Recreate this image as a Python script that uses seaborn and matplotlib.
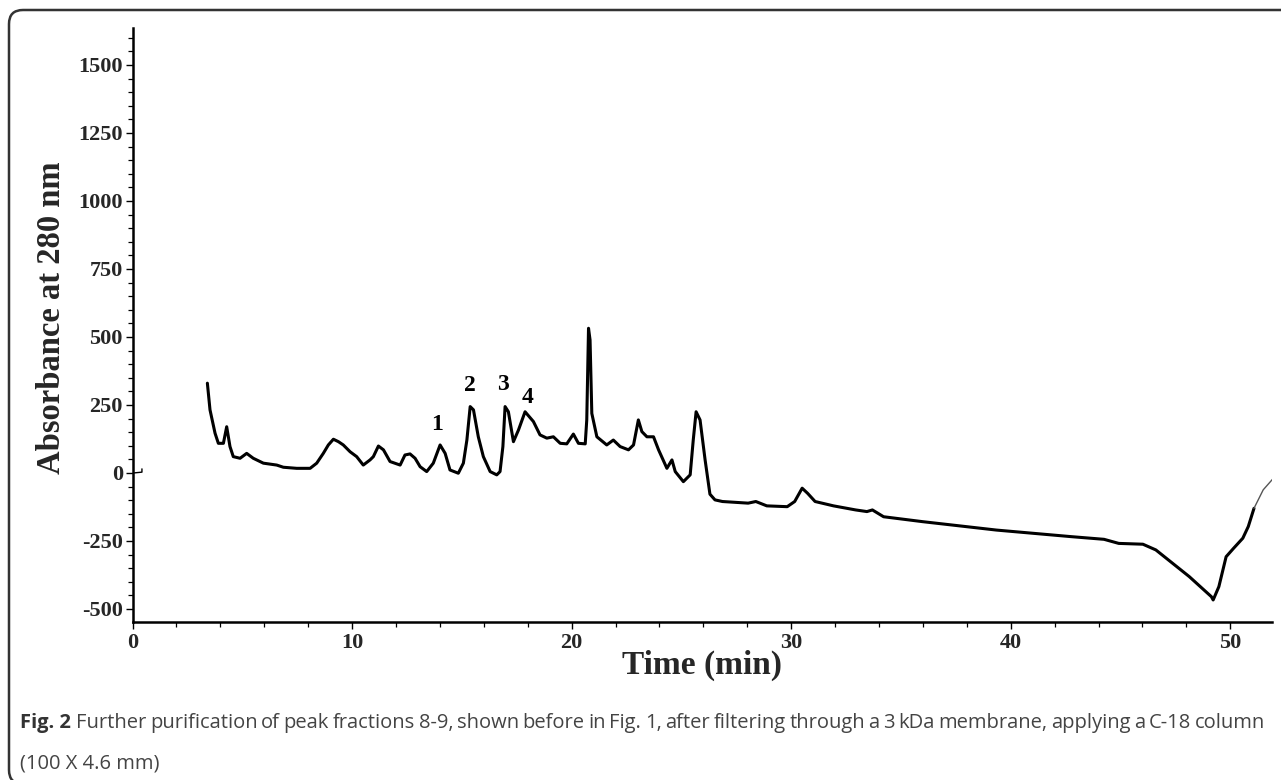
import numpy as np
import pandas as pd
import matplotlib
matplotlib.use("Agg")
import matplotlib.pyplot as plt
from matplotlib.patches import FancyBboxPatch
from matplotlib.ticker import MultipleLocator
import seaborn as sns

# ---- data ----
time_main = [3.41, 3.53, 3.76, 3.91, 4.14, 4.29, 4.44, 4.59, 4.90, 5.20,
             5.50, 5.96, 6.57, 6.87, 7.48, 8.09, 8.39, 8.69, 8.92, 9.15, 9.38, 9.60, 9.91,
             10.21, 10.51, 10.82, 10.97, 11.20, 11.43, 11.73, 12.19, 12.41, 12.64,
             12.87, 13.10, 13.40, 13.70, 14.01, 14.24, 14.46, 14.84, 15.07, 15.23,
             15.38, 15.53, 15.75, 15.98, 16.29, 16.59, 16.74, 16.87, 16.97, 17.12,
             17.35, 17.58, 17.88, 18.26, 18.56, 18.87, 19.17, 19.48, 19.78, 20.08,
             20.31, 20.62, 20.69, 20.77, 20.84, 20.92, 21.15, 21.60, 21.90, 22.21,
             22.59, 22.82, 23.04, 23.20, 23.43, 23.73, 23.96, 24.34, 24.57, 24.72,
             25.09, 25.40, 25.54, 25.67, 25.85, 26.08, 26.30, 26.53, 26.87, 28.04,
             28.39, 28.89, 29.82, 30.16, 30.50, 30.75, 31.09, 31.93, 32.94, 33.45,
             33.70, 34.21, 35.98, 39.35, 42.73, 44.25, 44.92, 46.02, 46.61, 48.13,
             49.14, 49.22, 49.48, 49.81, 50.15, 50.57, 50.82, 51.08]
abs_main = [330, 232, 146, 109, 109, 170, 97, 60, 54, 72,
            54, 36, 29, 21, 17, 17, 36, 72, 103, 124, 115, 103, 78,
            60, 29, 48, 60, 99, 85, 42, 29, 66, 70,
            54, 23, 5, 36, 103, 72, 11, -1, 36, 121,
            244, 232, 133, 60, 5, -7, 5, 97, 244, 225,
            115, 158, 225, 189, 140, 128, 133, 109, 107, 143,
            109, 107, 195, 532, 489, 219, 133, 103, 121, 97,
            85, 103, 195, 152, 133, 133, 85, 17, 48, 5,
            -32, -7, 121, 225, 195, 48, -78, -99, -105, -111,
            -105, -121, -124, -105, -56, -75, -105, -121, -136, -142,
            -136, -161, -179, -210, -234, -244, -259, -262, -283, -381,
            -455, -467, -418, -308, -277, -240, -197, -130]
time_tail = [51.08, 51.50, 51.97]
abs_tail = [-130, -62, -19]
time_pre = [0.05, 0.43, 0.43]
abs_pre = [0, 3, 15]

peak_labels = ["1", "2", "3", "4"]
peak_label_time = [13.87, 15.38, 16.88, 18.01]
peak_label_abs = [180, 323, 327, 276]

y_ticks = [-500, -250, 0, 250, 500, 750, 1000, 1250, 1500]
x_ticks = [0, 10, 20, 30, 40, 50]

caption_bold = "Fig. 2"
caption_line1 = ("Further purification of peak fractions 8-9, shown before in Fig. 1, "
                 "after filtering through a 3 kDa membrane, applying a C-18 column")
caption_line2 = "(100 X 4.6 mm)"

# ---- style ----
sns.set_theme(style="ticks")
plt.rcParams["font.family"] = ["Liberation Serif", "DejaVu Serif"]
plt.rcParams["axes.unicode_minus"] = False

W, H = 1281, 780
fig = plt.figure(figsize=(W / 100, H / 100), dpi=100)
ax_left, ax_right, ax_top, ax_bottom = 132.5, 1272, 28, 622
ax = fig.add_axes([ax_left / W, 1 - ax_bottom / H, (ax_right - ax_left) / W,
                   (ax_bottom - ax_top) / H])

df_main = pd.DataFrame({"Time": time_main, "Abs": abs_main})
df_tail = pd.DataFrame({"Time": time_tail, "Abs": abs_tail})
df_pre = pd.DataFrame({"Time": time_pre, "Abs": abs_pre})

sns.lineplot(data=df_main, x="Time", y="Abs", sort=False, estimator=None,
             color="black", linewidth=2.2, ax=ax)
sns.lineplot(data=df_tail, x="Time", y="Abs", sort=False, estimator=None,
             color="#555555", linewidth=1.0, ax=ax)
sns.lineplot(data=df_pre, x="Time", y="Abs", sort=False, estimator=None,
             color="black", linewidth=1.0, ax=ax)

for lab, tx, ty in zip(peak_labels, peak_label_time, peak_label_abs):
    ax.text(tx, ty, lab, ha="center", va="center", fontsize=17,
            fontweight="bold", color="black")

ax.set_xlim(0, 51.9)
ax.set_ylim(-548, 1636)
ax.set_xticks(x_ticks)
ax.set_yticks(y_ticks)
ax.xaxis.set_minor_locator(MultipleLocator(2))
ax.yaxis.set_minor_locator(MultipleLocator(50))
ax.tick_params(axis="both", which="major", length=5, width=1.0, color="black",
               labelsize=16, direction="out")
ax.tick_params(axis="both", which="minor", length=3.5, width=0.9, color="black",
               direction="out")
ax.tick_params(axis="x", which="major", pad=3)
ax.tick_params(axis="y", which="major", pad=2)
for lbl in ax.get_xticklabels() + ax.get_yticklabels():
    lbl.set_fontweight("bold")

sns.despine(ax=ax)
for side in ["left", "bottom"]:
    ax.spines[side].set_linewidth(1.8)
    ax.spines[side].set_color("black")

ax.set_xlabel("Time (min)", fontsize=24, fontweight="bold", va="center")
ax.xaxis.set_label_coords(0.5, (ax_bottom - 665) / (ax_bottom - ax_top))
ax.set_ylabel("Absorbance at 280 nm", fontsize=23.5, fontweight="bold", va="center")
ax.yaxis.set_label_coords((52 - ax_left) / (ax_right - ax_left),
                          (ax_bottom - 318) / (ax_bottom - ax_top))

# ---- frame ----
frame = FancyBboxPatch((9, -4), 1320, 774, boxstyle="round,pad=0,rounding_size=14",
                       transform=None, fill=False, edgecolor="#333333", linewidth=1.8)
fig.patches.append(frame)

# ---- caption ----
cap_font = ["Open Sans", "DejaVu Sans"]
cap_size = 14.5
fig.canvas.draw()
renderer = fig.canvas.get_renderer()
x0_px, y1_px, x_end_px = 20, H - 728, 1265
t_bold = fig.text(x0_px / W, y1_px / H, caption_bold, family=cap_font, fontsize=cap_size,
                  fontweight="bold", color="#333333", va="baseline", ha="left")
bb = t_bold.get_window_extent(renderer)
words = caption_line1.split(" ")
widths = []
for wd in words:
    t = fig.text(0, 0, wd, family=cap_font, fontsize=cap_size, color="#444444")
    widths.append(t.get_window_extent(renderer).width)
    t.remove()
space_probe = fig.text(0, 0, "a a", family=cap_font, fontsize=cap_size)
a_probe = fig.text(0, 0, "aa", family=cap_font, fontsize=cap_size)
space_w = space_probe.get_window_extent(renderer).width - a_probe.get_window_extent(renderer).width
space_probe.remove(); a_probe.remove()
start = bb.x1 + space_w
avail = x_end_px - start
gap = (avail - sum(widths)) / (len(words) - 1)
gap = max(gap, space_w * 0.6)
xp = start
for wd, w in zip(words, widths):
    fig.text(xp / W, y1_px / H, wd, family=cap_font, fontsize=cap_size,
             color="#444444", va="baseline", ha="left")
    xp += w + gap
fig.text(x0_px / W, (H - 768) / H, caption_line2, family=cap_font, fontsize=cap_size,
         color="#444444", va="baseline", ha="left")

fig.savefig("out.png", dpi=100, facecolor="white")
